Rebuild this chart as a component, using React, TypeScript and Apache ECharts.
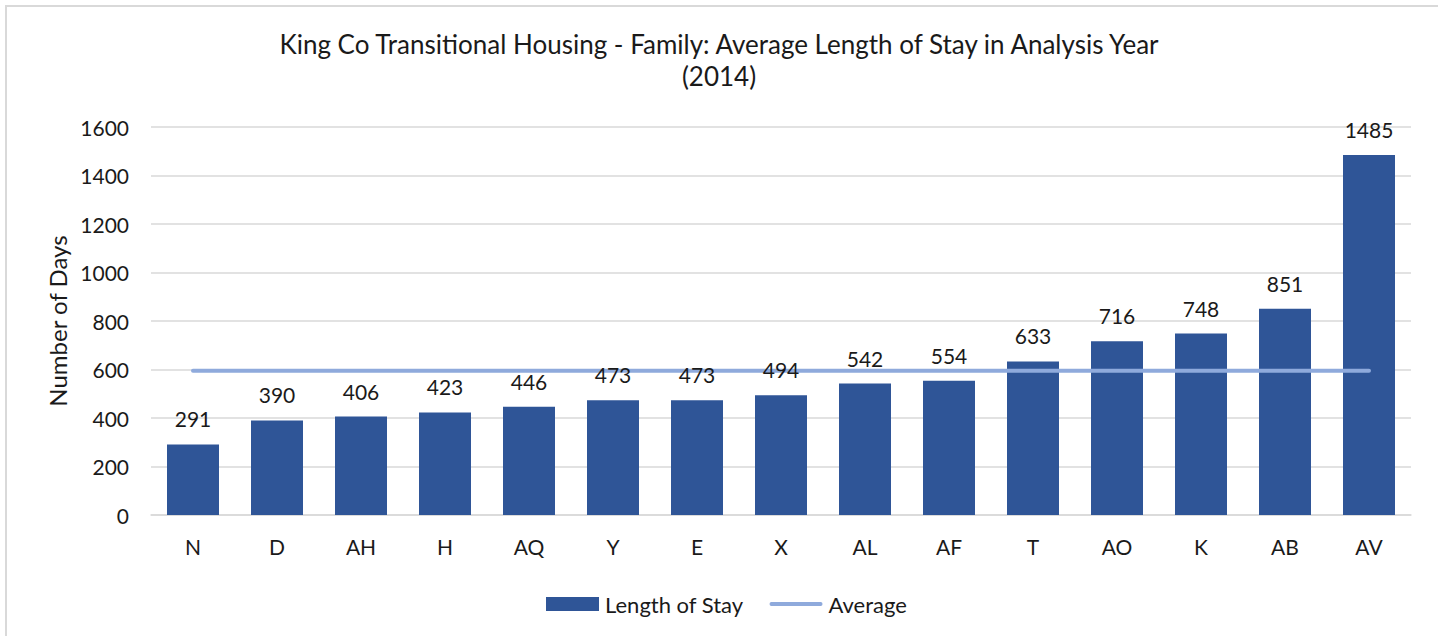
import React, { useEffect, useRef } from "react";
import * as echarts from "echarts";

const categories = ["N", "D", "AH", "H", "AQ", "Y", "E", "X", "AL", "AF", "T", "AO", "K", "AB", "AV"];
const lengthOfStay = [291, 390, 406, 423, 446, 473, 473, 494, 542, 554, 633, 716, 748, 851, 1485];
const averageValues = [595, 595, 595, 595, 595, 595, 595, 595, 595, 595, 595, 595, 595, 595, 595];
const titleLines = ["King Co Transitional Housing - Family: Average Length of Stay in Analysis Year", "(2014)"];

const FONT = "Lato, 'Open Sans', sans-serif";

export default function App() {
  const ref = useRef<HTMLDivElement>(null);
  useEffect(() => {
    if (!ref.current) return;
    const chart = echarts.init(ref.current, null, { renderer: "svg" });
    chart.setOption({
      animation: false,
      backgroundColor: "#ffffff",
      textStyle: { fontFamily: FONT },
      graphic: [
        {
          type: "rect",
          shape: { x: 6, y: 6, width: 1500, height: 700 },
          style: { fill: "none", stroke: "#d9d9d9", lineWidth: 2 },
          silent: true,
        },
      ],
      title: {
        text: titleLines.join("\n"),
        left: "center",
        top: 23,
        textStyle: { fontFamily: FONT, fontSize: 26, fontWeight: "normal", color: "#1a1a1a", lineHeight: 32 },
      },
      legend: {
        left: 541,
        top: 588,
        itemWidth: 53,
        itemHeight: 14,
        itemGap: 26,
        textStyle: { fontFamily: FONT, fontSize: 22, color: "#1a1a1a", padding: [0, 0, 0, 1] },
        data: [
          { name: "Length of Stay", icon: "rect" },
          { name: "Average", icon: "path://M2,0h52a2,2 0 0 1 0,4h-52a2,2 0 0 1 0,-4z" },
        ],
      },
      grid: { left: 151, right: 27, top: 127, bottom: 121, containLabel: false },
      xAxis: {
        type: "category",
        data: categories,
        axisTick: { show: false },
        axisLine: { lineStyle: { color: "#d9d9d9", width: 1.5 } },
        axisLabel: { fontFamily: FONT, fontSize: 21, color: "#1a1a1a", margin: 21 },
      },
      yAxis: {
        type: "value",
        min: 0,
        max: 1600,
        interval: 200,
        name: "Number of Days",
        nameLocation: "middle",
        nameGap: 82,
        nameTextStyle: { fontFamily: FONT, fontSize: 24, color: "#1a1a1a" },
        axisLabel: {
          fontFamily: FONT,
          fontSize: 21,
          color: "#1a1a1a",
          margin: 22,
          formatter: (v: number) => String(v),
        },
        splitLine: { lineStyle: { color: "#d9d9d9", width: 1.5 } },
        axisLine: { show: false },
        axisTick: { show: false },
      },
      series: [
        {
          name: "Length of Stay",
          type: "bar",
          data: lengthOfStay,
          barWidth: 52,
          itemStyle: { color: "#2f5597" },
          z: 2,
        },
        {
          name: "Average",
          type: "line",
          data: averageValues,
          symbol: "none",
          showSymbol: false,
          lineStyle: { color: "#8faadc", width: 4, cap: "round" },
          itemStyle: { color: "#8faadc" },
          z: 3,
        },
        {
          name: "labels",
          type: "bar",
          data: lengthOfStay,
          barWidth: 52,
          barGap: "-100%",
          itemStyle: { color: "rgba(0,0,0,0)" },
          label: {
            show: true,
            position: "top",
            distance: 15,
            fontFamily: FONT,
            fontSize: 21,
            color: "#1a1a1a",
          },
          silent: true,
          z: 4,
        },
      ],
    });
    return () => chart.dispose();
  }, []);
  return (
    <div
      ref={ref}
      style={{ position: "absolute", left: 0, top: 0, width: 1438, height: 636 }}
    />
  );
}
